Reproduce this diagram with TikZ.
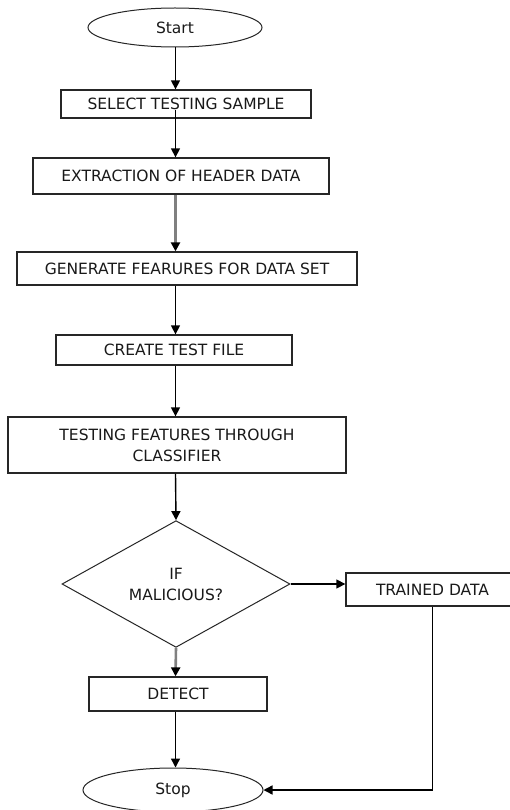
\documentclass[tikz,border=0pt]{standalone}
\usepackage{fontspec}
\setmainfont{DejaVu Sans}
\usetikzlibrary{shapes.geometric,arrows.meta,calc}
\begin{document}
\begin{tikzpicture}[x=1pt,y=-1pt,
  lbl/.style={font=\fontsize{15.5}{21}\selectfont,text=black!90},
  box/.style={lbl,draw=black!85,line width=1.3pt,rectangle,inner sep=0pt,align=center},
  term/.style={lbl,draw=black!85,line width=1pt,ellipse,inner sep=0pt},
  dec/.style={lbl,draw=black!85,line width=1pt,diamond,inner sep=0pt,align=center},
  arr/.style={draw=black,line width=1.4pt,-{Triangle[length=9pt,width=9pt]}},
  garr/.style={draw=black!50,line width=2.6pt,-{Triangle[length=9pt,width=9pt,color=black]}}]
\useasboundingbox[fill=white] (0,0) rectangle (510,810);
\coordinate (ax) at (175.5,0);
% nodes
\node[term,minimum width=174pt,minimum height=39pt] (start) at (175,27.5) {Start};
\node[box,minimum width=250pt,minimum height=28pt] (sel) at (186,104) {SELECT TESTING SAMPLE};
\node[box,minimum width=296pt,minimum height=36pt] (ext) at (181,176) {EXTRACTION OF HEADER DATA};
\node[box,minimum width=340pt,minimum height=33pt] (gen) at (187,268.5) {GENERATE FEARURES FOR DATA SET};
\node[box,minimum width=236pt,minimum height=30pt] (cre) at (174,350) {CREATE TEST FILE};
\node[box,minimum width=338pt,minimum height=56pt] (test) at (177,445) {TESTING FEATURES THROUGH\\CLASSIFIER};
\node[dec,minimum width=228pt,minimum height=97pt] (dia) at (176,584) {IF\\MALICIOUS?};
\node[box,minimum width=173pt,minimum height=33pt] (trn) at (432.5,589.5) {TRAINED DATA};
\node[box,minimum width=178pt,minimum height=34pt] (det) at (178,694) {DETECT};
\node[term,minimum width=180pt,minimum height=44pt] (stop) at (173,790) {Stop};
\coordinate (c1) at (175.5,110);
% connectors
\draw[arr] (ax |- start.south) -- (ax |- sel.north);
\draw[arr] (c1) -- (ax |- ext.north);
\draw[garr] (ax |- ext.south) -- (ax |- gen.north);
\draw[arr] (ax |- gen.south) -- (ax |- cre.north);
\draw[arr] (ax |- cre.south) -- (ax |- test.north);
\draw[arr] (ax |- test.south) -- (dia.north);
\draw[arr] (dia.east) -- (trn.west |- dia.east);
\draw[garr] (dia.south) -- (ax |- det.north);
\draw[arr] (ax |- det.south) -- (ax |- stop.north);
\draw[arr] (trn.south) |- (stop.east);
\end{tikzpicture}
\end{document}
